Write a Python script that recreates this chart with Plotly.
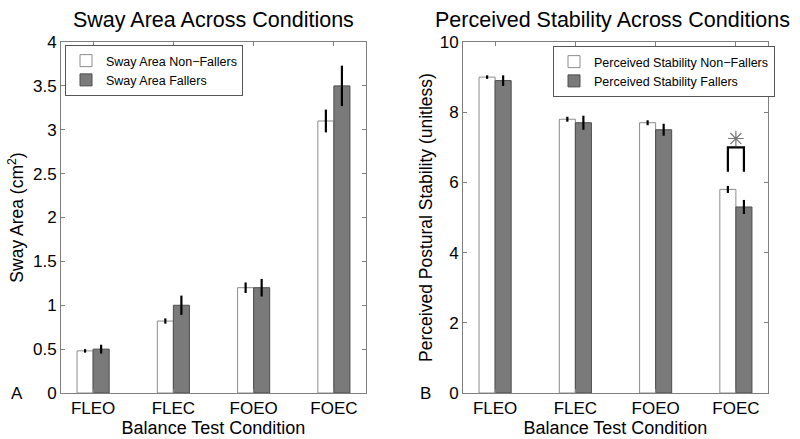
import plotly.graph_objects as go

conditions = ["FLEO", "FLEC", "FOEO", "FOEC"]
xpos = [1, 2, 3, 4]

sway_nonfallers = [0.48, 0.82, 1.20, 3.10]
sway_nonfallers_err = [0.02, 0.03, 0.06, 0.13]
sway_fallers = [0.50, 1.00, 1.20, 3.50]
sway_fallers_err = [0.05, 0.11, 0.10, 0.23]

stab_nonfallers = [9.0, 7.8, 7.7, 5.8]
stab_nonfallers_err = [0.05, 0.07, 0.07, 0.10]
stab_fallers = [8.9, 7.7, 7.5, 5.3]
stab_fallers_err = [0.15, 0.20, 0.17, 0.20]

# significance marker for FOEC perceived stability
sig_x = [3.9, 3.9, 4.1, 4.1]
sig_y = [6.3, 7.0, 7.0, 6.3]
star_x = [4.0]
star_y = [7.25]

FONT = "Arial, Liberation Sans, sans-serif"
WHITE_FILL = "#ffffff"
WHITE_LINE = "#8c8c8c"
GRAY_FILL = "#7a7a7a"
GRAY_LINE = "#4d4d4d"
AXIS_COL = "#7f7f7f"

fig = go.Figure()

def add_bars(vals, errs, name, fill, line, xa, ya, legend):
    fig.add_trace(go.Bar(
        x=xpos, y=vals, name=name, xaxis=xa, yaxis=ya, legend=legend,
        marker=dict(color=fill, line=dict(color=line, width=1)),
        error_y=dict(type="data", array=errs, visible=True, color="black",
                     thickness=2.2, width=0),
    ))

add_bars(sway_nonfallers, sway_nonfallers_err, "Sway Area Non\u2212Fallers",
         WHITE_FILL, WHITE_LINE, "x", "y", "legend")
add_bars(sway_fallers, sway_fallers_err, "Sway Area Fallers",
         GRAY_FILL, GRAY_LINE, "x", "y", "legend")
add_bars(stab_nonfallers, stab_nonfallers_err, "Perceived Stability Non\u2212Fallers",
         WHITE_FILL, WHITE_LINE, "x2", "y2", "legend2")
add_bars(stab_fallers, stab_fallers_err, "Perceived Stability Fallers",
         GRAY_FILL, GRAY_LINE, "x2", "y2", "legend2")

fig.add_trace(go.Scatter(x=sig_x, y=sig_y, mode="lines", xaxis="x2", yaxis="y2",
                         line=dict(color="black", width=2.2), showlegend=False,
                         hoverinfo="skip"))
fig.add_trace(go.Scatter(x=star_x, y=star_y, mode="markers", xaxis="x2", yaxis="y2",
                         marker=dict(symbol="asterisk-open", size=13, color="#777777",
                                     line=dict(color="#777777", width=1.2)),
                         showlegend=False, hoverinfo="skip"))

ydom = [46 / 439, 397 / 439]
xcommon = dict(
    tickmode="array", tickvals=xpos, ticktext=conditions, range=[0.6, 4.4],
    showline=True, linecolor=AXIS_COL, linewidth=1, mirror="ticks",
    ticks="inside", ticklen=4, tickcolor=AXIS_COL, showgrid=False, zeroline=False,
    automargin=False,
    tickfont=dict(size=17, color="black", family=FONT),
    title=dict(text="Balance Test Condition", font=dict(size=18, color="black", family=FONT),
               standoff=0),
)
ycommon = dict(
    showline=True, linecolor=AXIS_COL, linewidth=1, mirror="ticks",
    ticks="inside", ticklen=4, tickcolor=AXIS_COL, showgrid=False, zeroline=False,
    automargin=False,
    tickfont=dict(size=17, color="black", family=FONT),
)

fig.update_layout(
    width=800, height=439,
    margin=dict(l=0, r=0, t=0, b=0, autoexpand=False),
    paper_bgcolor="white", plot_bgcolor="white",
    font=dict(family=FONT, color="black"),
    barmode="group", bargap=0.6, bargroupgap=0,
    xaxis=dict(domain=[61 / 800, 366 / 800], anchor="y", **xcommon),
    xaxis2=dict(domain=[463 / 800, 768 / 800], anchor="y2", **xcommon),
    yaxis=dict(domain=ydom, anchor="x", range=[0, 4], tickvals=[0, 0.5, 1, 1.5, 2, 2.5, 3, 3.5, 4],
               ticktext=["0", "0.5", "1", "1.5", "2", "2.5", "3", "3.5", "4"],
               title=dict(text="Sway Area (cm<sup>2</sup>)", font=dict(size=17.5, family=FONT),
                          standoff=4),
               **ycommon),
    yaxis2=dict(domain=ydom, anchor="x2", range=[0, 10], tickvals=[0, 2, 4, 6, 8, 10],
                title=dict(text="Perceived Postural Stability (unitless)",
                           font=dict(size=17.5, family=FONT), standoff=2),
                **ycommon),
    legend=dict(x=65 / 800, y=1 - 45 / 439, xanchor="left", yanchor="top",
                bgcolor="white", bordercolor="#555555", borderwidth=1,
                font=dict(size=12.5, family=FONT), tracegroupgap=0, itemwidth=30),
    legend2=dict(x=553 / 800, y=1 - 46 / 439, xanchor="left", yanchor="top",
                 bgcolor="white", bordercolor="#555555", borderwidth=1,
                 font=dict(size=12.5, family=FONT), tracegroupgap=0, itemwidth=30),
    annotations=[
        dict(text="Sway Area Across Conditions", x=213 / 800, y=1 - 20 / 439,
             xanchor="center", yanchor="middle",
             xref="paper", yref="paper", showarrow=False, font=dict(size=21.5, family=FONT)),
        dict(text="Perceived Stability Across Conditions", x=612 / 800, y=1 - 20 / 439,
             xanchor="center", yanchor="middle",
             xref="paper", yref="paper", showarrow=False, font=dict(size=21.5, family=FONT)),
        dict(text="A", x=17 / 800, y=1 - 393 / 439, xanchor="center", yanchor="middle",
             xref="paper", yref="paper",
             showarrow=False, font=dict(size=17, family=FONT)),
        dict(text="B", x=425 / 800, y=1 - 393 / 439, xanchor="center", yanchor="middle",
             xref="paper", yref="paper",
             showarrow=False, font=dict(size=17, family=FONT)),
    ],
)

fig.write_html("out.html", post_script="document.body.style.margin='0px';",
               config={"displayModeBar": False})
